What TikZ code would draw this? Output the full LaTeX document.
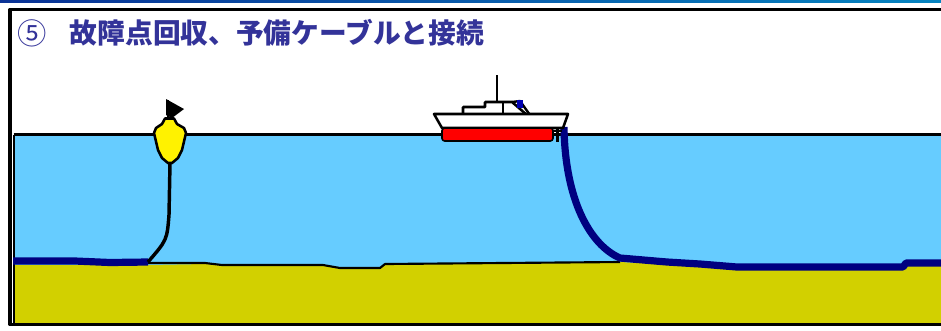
\documentclass[tikz,border=0pt]{standalone}
\usepackage{fontspec}
\newfontfamily\cjk{Noto Sans CJK JP}
\usetikzlibrary{positioning}

\definecolor{seawater}{RGB}{102,204,255}
\definecolor{seabed}{RGB}{210,208,0}
\definecolor{cablenavy}{RGB}{0,0,128}
\definecolor{titleblue}{RGB}{51,51,153}
\definecolor{hullred}{RGB}{255,0,0}
\definecolor{topline}{RGB}{10,50,150}

\begin{document}
\begin{tikzpicture}[x=0.75pt,y=-0.75pt,line join=round,
  outline/.style={draw=black,line width=1.9pt},
  cable/.style={draw=cablenavy,line width=5.4pt},
  heading/.style={text=titleblue,inner sep=0pt,anchor=west,
    font=\cjk\bfseries\fontsize{20.8}{24}\selectfont}]
\useasboundingbox (0,0) rectangle (941,330);
\fill [white] (0,0) rectangle (941,330);
\shade [left color=topline,right color=topline!60!cyan] (0,0) rectangle (941,2);

% water and seabed
\fill [seawater] (13,135) rectangle (941,272);
\fill [seabed] (13,265) -- (148,265) -- (205,264) -- (222,265) -- (323,265)
  -- (340,268) -- (380,268) -- (385,264) -- (620,262) -- (700,266)
  -- (737,270) -- (903,270) -- (906,266) -- (941,266) -- (941,324) -- (13,324) -- cycle;
\draw [black,line width=1.6pt] (148,263) -- (205,263) -- (222,265) -- (323,265)
  -- (340,268) -- (380,268) -- (385,264) -- (620,262);
\draw [black,line width=2.3pt] (13.5,134.5) -- (941,134.5);
\draw [black,line width=1.6pt] (14,134.5) -- (14,324);

% frame
\draw [black,line width=2.5pt] (941,9.5) -- (10,9.5) -- (10,324.5) -- (941,324.5);

% laid cables
\coordinate (oldend) at (148,262);
\coordinate (stern) at (564,127);
\coordinate (touchdown) at (620,258);
\draw [cable] (13,261) -- (75,261) -- (110,262.5) -- (oldend);
\draw [cable] (stern) .. controls (565,200) and (590,245) .. (touchdown)
  -- (667,262) -- (700,264) -- (737,267) -- (903,267) -- (906,263) -- (941,263);

% buoy with mooring line
\coordinate (buoybase) at (170,163);
\draw [black,line width=2.6pt] (buoybase) -- (169,215) .. controls (167,240) .. (oldend);
\draw [black,line width=1.8pt] (168,119) -- (168,100);
\fill [black] (166,99) -- (184,109) -- (172,118) -- (166,115) -- cycle;
\draw [outline,fill=yellow] (162,124) -- (165,118.5) -- (174,118.5) -- (177,124)
  -- (184,128) -- (186,133) -- (182,150) -- (178,158) -- (172,163) -- (168,163)
  -- (162,158) -- (158,150) -- (154,133) -- (156,128) -- cycle;

% cable ship
\draw [black,line width=2pt] (497,102) -- (497,75);
\draw [outline,fill=white] (463,115) -- (463,107) -- (485,107) -- (485,102)
  -- (512,102) -- (527,115);
\draw [black,line width=1.4pt] (503,102) -- (503,115);
\draw [black,line width=1.8pt] (512,102) -- (520,101) -- (530,115);
\fill [blue!70!black] (517,100) rectangle (523,108);
\draw [outline,fill=white] (434,114) -- (568,114) -- (563,128) -- (442,128) -- cycle;
\draw [black,line width=1.2pt,fill=hullred,rounded corners=2pt] (442,128) rectangle (553,141);
\fill [black] (556,129) rectangle (559,142);
\draw [black,line width=1.2pt] (552,131) -- (562,131);

% heading
\node [heading,font=\cjk\fontsize{22}{24}\selectfont] (num) at (17,33) {⑤};
\node [heading,right=17pt of num] (title) {故障点回収、予備ケーブルと接続};
\end{tikzpicture}
\end{document}
